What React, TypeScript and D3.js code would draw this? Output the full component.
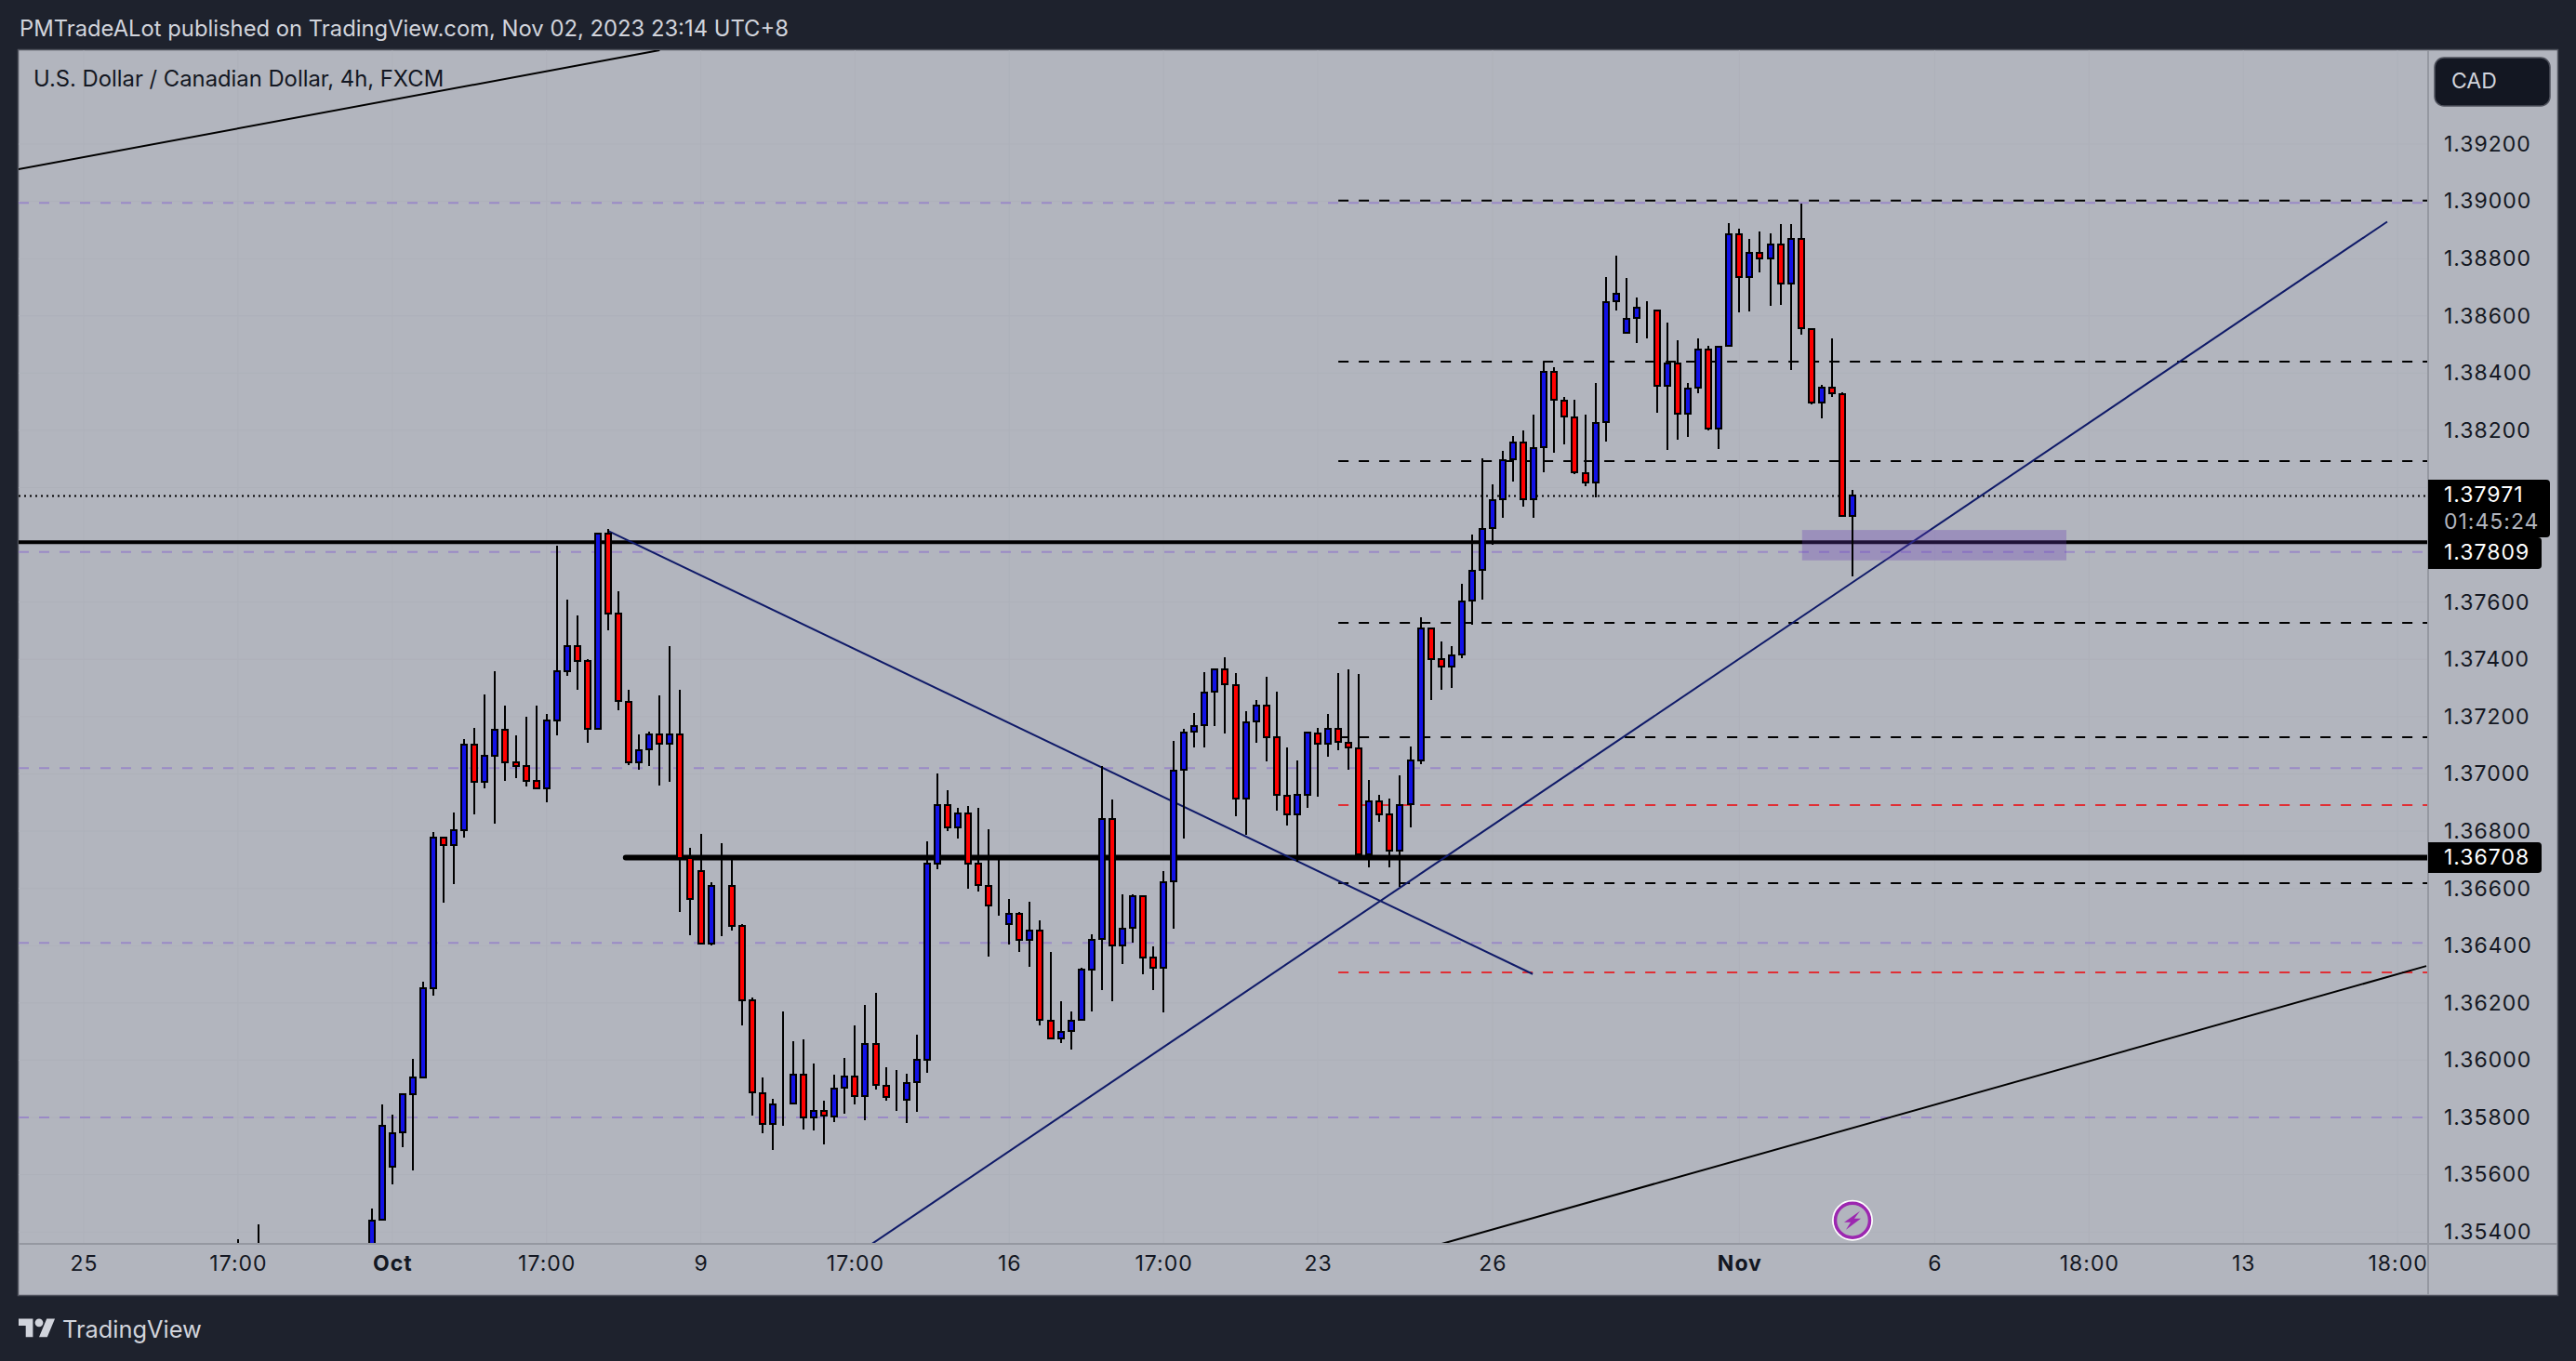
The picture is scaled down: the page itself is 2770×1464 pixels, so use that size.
import * as d3 from "d3";
import { useEffect, useRef } from "react";

// prices are kept in 1/100000 of a CAD, bar 0 is the first candle fully in view
const opens = [
	135319, 135443, 135628, 135748, 135880, 135939, 136253, 136777, 136751, 136803,
	137102, 136972, 137064, 137153, 137039, 137026, 136974, 136951, 137186, 137360,
	137446, 137396, 137156, 137838, 137559, 137253, 137040, 137085, 137139, 137106,
	137139, 136706, 136661, 136407, 136610, 136610, 136468, 136208, 135885, 135777,
	135848, 135850, 135951, 135800, 135823, 135804, 135903, 135943, 135875, 136058,
	135911, 135866, 135861, 135922, 136002, 136686, 136892, 136812, 136862, 136685,
	136609, 136537, 136474, 136512, 136419, 136454, 136138, 136075, 136101, 136141,
	136315, 136423, 136843, 136400, 136462, 136573, 136359, 136322, 136625, 137014,
	137147, 137169, 137286, 137364, 137310, 136914, 137183, 137240, 137127, 136925,
	136858, 136928, 137142, 137104, 137159, 137110, 137090, 136718, 136905, 136858,
	136731, 136893, 137048, 137509, 137400, 137374, 137416, 137604, 137712, 137858,
	137959, 138098, 138158, 137959, 138140, 138405, 138305, 138246, 138052, 138017,
	138228, 138650, 138542, 138592, 138625, 138620, 138356, 138434, 138257, 138348,
	138483, 138205, 138494, 138886, 138735, 138821, 138800, 138850, 138712, 138870,
	138555, 138296, 138350, 138328, 137901,
];
const highs = [
	135483, 135846, 135811, 135880, 136005, 136274, 136798, 136780, 136866, 137121,
	137161, 137279, 137358, 137239, 137135, 137200, 137239, 137208, 137796, 137610,
	137552, 137400, 137841, 137856, 137638, 137295, 137137, 137147, 137274, 137447,
	137295, 136741, 136790, 136623, 136759, 136706, 136475, 136218, 135939, 135866,
	136170, 136065, 136073, 135990, 135857, 135949, 136007, 136120, 136193, 136234,
	135974, 135967, 135952, 136088, 136763, 137000, 136942, 136883, 136887, 136880,
	136808, 136698, 136562, 136517, 136552, 136487, 136377, 136207, 136169, 136322,
	136441, 137027, 136910, 136578, 136581, 136573, 136396, 136662, 137114, 137159,
	137214, 137354, 137368, 137407, 137351, 137219, 137259, 137338, 137286, 137091,
	137046, 137148, 137160, 137208, 137351, 137364, 137348, 136978, 136926, 136913,
	136994, 137095, 137546, 137512, 137462, 137445, 137663, 137835, 138101, 138010,
	138127, 138179, 138199, 138254, 138441, 138420, 138316, 138306, 138254, 138364,
	138735, 138809, 138731, 138663, 138650, 138620, 138575, 138514, 138364, 138520,
	138494, 138496, 138924, 138903, 138868, 138894, 138887, 138920, 138920, 138992,
	138555, 138358, 138521, 138332, 137991,
];
const lows = [
	135290, 135443, 135567, 135696, 135614, 135935, 136224, 136551, 136615, 136779,
	136858, 136951, 136827, 136977, 136984, 136955, 136945, 136900, 137134, 137341,
	137295, 137108, 137153, 137501, 137224, 137032, 137013, 137026, 136958, 136972,
	136518, 136438, 136404, 136400, 136434, 136454, 136123, 135808, 135746, 135688,
	135772, 135850, 135759, 135755, 135707, 135785, 135813, 135847, 135789, 135899,
	135859, 135823, 135782, 135821, 135957, 136668, 136799, 136775, 136600, 136588,
	136363, 136504, 136403, 136379, 136327, 136123, 136075, 136061, 136038, 136141,
	136170, 136246, 136207, 136337, 136409, 136301, 136246, 136168, 136460, 136775,
	137091, 137093, 137168, 137140, 136851, 136788, 137110, 137045, 136873, 136821,
	136694, 136882, 136921, 137061, 137084, 137016, 136719, 136675, 136833, 136675,
	136607, 136813, 137035, 137259, 137295, 137301, 137405, 137522, 137609, 137801,
	137896, 138022, 137935, 137896, 138055, 138123, 138152, 138046, 138006, 137965,
	138162, 138620, 138539, 138506, 138522, 138263, 138133, 138168, 138177, 138331,
	138201, 138136, 138494, 138613, 138617, 138753, 138636, 138639, 138412, 138535,
	138292, 138243, 138318, 137901, 137691,
];
const closes = [
	135441, 135772, 135746, 135880, 135939, 136253, 136777, 136751, 136803, 137102,
	136972, 137064, 137153, 137040, 137026, 136974, 136951, 137186, 137360, 137446,
	137396, 137158, 137838, 137560, 137255, 137040, 137082, 137139, 137106, 137139,
	136706, 136564, 136407, 136610, 136610, 136468, 136210, 135888, 135777, 135846,
	135848, 135951, 135801, 135823, 135806, 135902, 135943, 135875, 136058, 135913,
	135872, 135866, 135921, 136002, 136685, 136892, 136812, 136862, 136686, 136611,
	136540, 136537, 136512, 136419, 136454, 136141, 136075, 136100, 136138, 136315,
	136421, 136843, 136400, 136460, 136573, 136360, 136322, 136622, 137012, 137145,
	137168, 137285, 137364, 137313, 136914, 137181, 137240, 137128, 136926, 136858,
	136928, 137143, 137104, 137159, 137111, 137091, 136719, 136905, 136858, 136731,
	136892, 137048, 137509, 137400, 137374, 137415, 137603, 137710, 137856, 137957,
	138096, 138158, 137959, 138138, 138405, 138306, 138247, 138053, 138017, 138227,
	138649, 138678, 138591, 138628, 138625, 138355, 138435, 138257, 138347, 138483,
	138205, 138493, 138886, 138735, 138821, 138800, 138850, 138713, 138870, 138556,
	138296, 138350, 138329, 137901, 137971,
];
// only the upper wicks of these two older bars reach into the pane
const earlyBars = [-13, -11];
const earlyHighs = [135375, 135427];
const paneFloor = 135200;

const priceTicks = d3.range(135400, 139201, 200);
// these two sit behind the price badges
const hiddenPriceTicks = [138000, 137800];
const timeTicks = [-28, -13, 2, 17, 32, 47, 62, 77, 92, 109, 133, 152, 167, 182, 197];
const timeLabels = ["25", "17:00", "Oct", "17:00", "9", "17:00", "16", "17:00", "23", "26", "Nov", "6", "18:00", "13", "18:00"];
const boldLabels = ["Oct", "Nov"];

// purple dashed levels run across the whole pane
const purpleLevels = [138995, 137775, 137020, 136410, 135800];
// these start at bar 94
const blackLevels = [139003, 138440, 138093, 137528, 137128, 136618];
const redLevels = [136891, 136307];
const levelStartBar = 94;
const lastPrice = 137971;
const thinLine = 137809;
const thickLine = 136708;
const thickLineStartBar = 24.7;
// [bar, price] pairs
const blackTrends = [
	[[-34.35, 139112], [28, 139528]],
	[[103.7, 135355], [199.8, 136329]],
];
const navyTrends = [
	[[48.5, 135355], [196, 138929]],
	[[23, 137849], [112.9, 136301]],
];
const zoneBars = [139.1, 164.8];
const zonePrices = [137852, 137746];

const FONT = "Inter, 'Noto Sans', sans-serif";
const BG = "#1e222d";
const PANE = "#b2b5be";

export default function App() {
	const ref = useRef<SVGSVGElement | null>(null);

	useEffect(() => {
		if (!ref.current) return;
		const svg = d3.select(ref.current);
		svg.selectAll("*").remove();

		const left = 20;
		const top = 54;
		const right = 2611;
		const bottom = 1338;
		const panelRight = 2750;
		const panelBottom = 1393;

		const x = d3.scaleLinear().domain([0, 144]).range([399.7, 1992]);
		const y = d3.scaleLinear().domain([139200, 135400]).range([155, 1325.2]);

		svg.append("rect").attr("width", 2770).attr("height", 1464).attr("fill", BG);
		svg.append("rect")
			.attr("x", left - 0.5).attr("y", top - 0.5)
			.attr("width", panelRight - left + 1).attr("height", panelBottom - top + 1)
			.attr("fill", PANE).attr("stroke", "#50535e").attr("stroke-width", 1.5);

		svg.append("defs").append("clipPath").attr("id", "pane")
			.append("rect").attr("x", left).attr("y", top)
			.attr("width", right - left).attr("height", bottom - top);

		const pane = svg.append("g").attr("clip-path", "url(#pane)");

		// grid
		pane.selectAll(".gh").data(priceTicks).enter().append("line")
			.attr("x1", left).attr("x2", right)
			.attr("y1", (d) => y(d)).attr("y2", (d) => y(d))
			.attr("stroke", "#aeb1ba").attr("stroke-width", 1);
		pane.selectAll(".gv").data(timeTicks).enter().append("line")
			.attr("x1", (d) => x(d)).attr("x2", (d) => x(d))
			.attr("y1", top).attr("y2", bottom)
			.attr("stroke", "#aeb1ba").attr("stroke-width", 1);

		const hLine = (
			price: number,
			x1: number,
			color: string,
			width: number,
			dash?: string,
		) => {
			const l = pane.append("line")
				.attr("x1", x1).attr("x2", right)
				.attr("y1", y(price)).attr("y2", y(price))
				.attr("stroke", color).attr("stroke-width", width);
			if (dash) l.attr("stroke-dasharray", dash);
			return l;
		};

		purpleLevels.forEach((p) => hLine(p, left, "#9a8ac6", 2, "11 11"));
		blackLevels.forEach((p) => hLine(p, x(levelStartBar), "#000", 2, "11 11"));
		redLevels.forEach((p) => hLine(p, x(levelStartBar), "#e02f35", 2, "11 11"));
		hLine(lastPrice, left, "#000", 2, "2 4");
		hLine(thinLine, left, "#000", 4);
		hLine(thickLine, x(thickLineStartBar), "#000", 6).attr("stroke-linecap", "round");

		const trend = d3.line<number[]>().x((d) => x(d[0])).y((d) => y(d[1]));
		blackTrends.forEach((t) => {
			pane.append("path").attr("d", trend(t)).attr("fill", "none")
				.attr("stroke", "#000").attr("stroke-width", 2);
		});
		navyTrends.forEach((t) => {
			pane.append("path").attr("d", trend(t)).attr("fill", "none")
				.attr("stroke", "#0f1a68").attr("stroke-width", 2);
		});

		pane.append("rect")
			.attr("x", x(zoneBars[0])).attr("y", y(zonePrices[0]))
			.attr("width", x(zoneBars[1]) - x(zoneBars[0]))
			.attr("height", y(zonePrices[1]) - y(zonePrices[0]))
			.attr("fill", "#673ab7").attr("fill-opacity", 0.3);

		// candles
		pane.selectAll(".early").data(earlyBars).enter().append("line")
			.attr("shape-rendering", "crispEdges")
			.attr("x1", (d) => Math.round(x(d))).attr("x2", (d) => Math.round(x(d)))
			.attr("y1", (_, i) => y(earlyHighs[i])).attr("y2", y(paneFloor))
			.attr("stroke", "#000").attr("stroke-width", 2);

		const bars = opens.map((o, i) => ({ bar: i, o, h: highs[i], l: lows[i], c: closes[i] }));
		const candle = pane.selectAll(".c").data(bars).enter().append("g")
			.attr("shape-rendering", "crispEdges");
		candle.append("line")
			.attr("x1", (d) => Math.round(x(d.bar))).attr("x2", (d) => Math.round(x(d.bar)))
			.attr("y1", (d) => y(d.h)).attr("y2", (d) => y(d.l))
			.attr("stroke", "#000").attr("stroke-width", 2);
		candle.append("rect")
			.attr("x", (d) => Math.round(x(d.bar)) - 3)
			.attr("y", (d) => y(Math.max(d.o, d.c)))
			.attr("width", 6)
			.attr("height", (d) => Math.abs(y(d.o) - y(d.c)))
			.attr("fill", (d) => (d.c >= d.o ? "#1212e6" : "#ff0000"))
			.attr("stroke", "#000").attr("stroke-width", 2);

		// event marker
		const marker = svg.append("g").attr("transform", `translate(${x(144)},1312.7)`);
		marker.append("circle").attr("r", 22).attr("fill", "#fff");
		marker.append("circle").attr("r", 18.5).attr("fill", PANE)
			.attr("stroke", "#9c27b0").attr("stroke-width", 3.5);
		marker.append("path")
			.attr("d", "M8 -10 L-9 2 L-2 2 L-7 10 L9 -2 L2 -2 Z")
			.attr("fill", "#9c27b0");

		// axes
		const fmtPrice = (d: number) => (d / 1e5).toFixed(5);
		const yAxis = d3.axisRight(y)
			.tickValues(priceTicks.filter((d) => !hiddenPriceTicks.includes(d)))
			.tickSize(0).tickPadding(0)
			.tickFormat((d) => fmtPrice(+d));
		const yG = svg.append("g").attr("transform", "translate(2628,0)").call(yAxis);
		yG.select(".domain").remove();
		yG.selectAll("text")
			.attr("x", 0).attr("font-family", FONT).attr("font-size", 23)
			.attr("letter-spacing", 1).attr("fill", "#131722");

		const xAxis = d3.axisBottom(x).tickValues(timeTicks).tickSize(0).tickPadding(0)
			.tickFormat((_, i) => timeLabels[i]);
		const xG = svg.append("g").attr("transform", "translate(0,1351)").call(xAxis);
		xG.select(".domain").remove();
		xG.selectAll("text")
			.attr("font-family", FONT).attr("font-size", 23).attr("letter-spacing", 1)
			.attr("fill", "#131722")
			.attr("font-weight", function () {
				return boldLabels.includes(d3.select(this).text()) ? 700 : 400;
			});

		// separators
		svg.append("line").attr("x1", right).attr("x2", right).attr("y1", top).attr("y2", panelBottom)
			.attr("stroke", "#9598a1").attr("stroke-width", 2);
		svg.append("line").attr("x1", left).attr("x2", panelRight).attr("y1", bottom).attr("y2", bottom)
			.attr("stroke", "#9598a1").attr("stroke-width", 2);

		// price badges
		const badge = (y0: number, y1: number, x1: number) =>
			svg.append("path")
				.attr("d", `M${right} ${y0}H${x1 - 4}Q${x1} ${y0} ${x1} ${y0 + 4}V${y1 - 4}Q${x1} ${y1} ${x1 - 4} ${y1}H${right}Z`)
				.attr("fill", "#000");
		const badgeText = (s: string, cy: number, color = "#fff") =>
			svg.append("text").attr("x", 2628).attr("y", cy).attr("dy", "0.35em")
				.attr("font-family", FONT).attr("font-size", 23).attr("letter-spacing", 1)
				.attr("fill", color).text(s);
		badge(516, 578, 2742);
		badge(578, 612, 2733);
		badge(906, 939, 2733);
		badgeText(fmtPrice(lastPrice), 532);
		badgeText("01:45:24", 561, "#b2b5be");
		badgeText(fmtPrice(thinLine), 594);
		badgeText(fmtPrice(thickLine), 922);

		// currency button
		svg.append("rect").attr("x", 2618).attr("y", 62).attr("width", 124).attr("height", 52).attr("rx", 10)
			.attr("fill", "#131722").attr("stroke", "#50535e").attr("stroke-width", 1.5);
		svg.append("text").attr("x", 2636).attr("y", 87).attr("dy", "0.35em")
			.attr("font-family", FONT).attr("font-size", 23).attr("fill", "#d1d4dc").text("CAD");

		// titles
		svg.append("text").attr("x", 21).attr("y", 31).attr("dy", "0.35em")
			.attr("font-family", FONT).attr("font-size", 23.8).attr("fill", "#d1d4dc")
			.text("PMTradeALot published on TradingView.com, Nov 02, 2023 23:14 UTC+8");
		svg.append("text").attr("x", 36).attr("y", 85).attr("dy", "0.35em")
			.attr("font-family", FONT).attr("font-size", 23.8).attr("fill", "#131722")
			.text("U.S. Dollar / Canadian Dollar, 4h, FXCM");

		// logo
		const logo = svg.append("g").attr("transform", "translate(20,1414) scale(1.1)").attr("fill", "#d1d4dc");
		logo.append("path").attr("d", "M14 22H7V11H0V4h14v18zM28 22h-8l7.5-18h8L28 22z");
		logo.append("circle").attr("cx", 20).attr("cy", 8).attr("r", 4);
		svg.append("text").attr("x", 67).attr("y", 1430).attr("dy", "0.35em")
			.attr("font-family", FONT).attr("font-size", 25.4).attr("fill", "#d1d4dc").text("TradingView");
	}, []);

	return (
		<svg
			ref={ref}
			width={2770}
			height={1464}
			style={{ position: "fixed", left: 0, top: 0, display: "block" }}
		/>
	);
}
